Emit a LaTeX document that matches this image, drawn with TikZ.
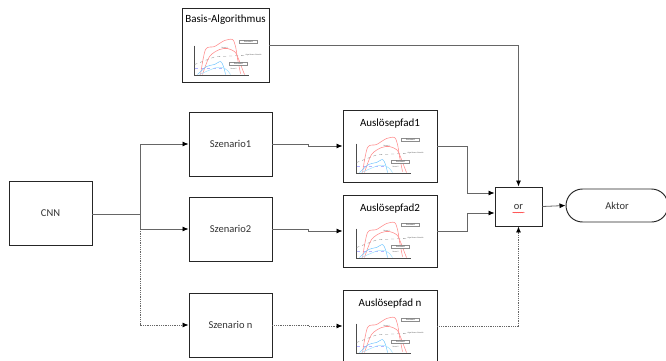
\documentclass[tikz,border=0pt]{standalone}
\usepackage{fontspec}
\setmainfont{Carlito}
\usetikzlibrary{arrows.meta,calc,decorations.pathmorphing}
\begin{document}
\begin{tikzpicture}[x=1pt,y=-1pt,
  box/.style={draw=black!85,line width=0.95pt,fill=white,inner sep=0pt},
  con/.style={draw=black!60,line width=0.8pt},
  arr/.style={con,-{Latex[length=6pt,width=5pt,color=black]}},
  dots/.style={dash pattern=on 1pt off 0.8pt},
  lbl/.style={font=\fontsize{10.5}{12}\selectfont,text=black!80},
  ttl/.style={font=\fontsize{11}{13}\selectfont,inner sep=0pt},
  tb/.style={draw=black!45,line width=0.2pt,fill=white,inner sep=0.4pt,font=\fontsize{1.8}{2}\selectfont,minimum width=18pt,minimum height=3.5pt},
  tt/.style={inner sep=0pt,font=\fontsize{1.8}{2}\selectfont,text=black!70},
  chart/.pic={
    \draw[black!70,line width=0.4pt] (14,34) -- (14,64) -- (68,64);
    \draw[black!50,dashed,line width=0.3pt] (14,53) -- (35,45) -- (64,44);
    \draw[blue!30,dashed,line width=0.3pt] (14,57) -- (44,57);
    \draw[red!45,line width=0.55pt] plot[smooth,tension=0.5] coordinates {(20,63) (25,38) (34,35) (44,29) (52,28) (55,35) (57,47) (60,62)};
    \draw[red!45,line width=0.55pt] plot[smooth,tension=0.5] coordinates {(22,63) (29,45) (39,38) (47,37) (54,40) (57,45) (62,58) (64,63)};
    \draw[blue!40!cyan!60,line width=0.45pt] plot[smooth,tension=0.5] coordinates {(17,63) (26,55) (34,53) (40,50) (43,55) (45,63)};
    \draw[blue!30!cyan!40,line width=0.45pt] plot[smooth,tension=0.5] coordinates {(19,63) (28,59) (36,56) (42,56) (47,59) (50,63)};
    \node[tb] at (68,30) {Grenzwert1};
    \node[tt] at (44,36) {Sensor1};
    \node[tt,anchor=west] at (65,44) {Algorithmus-Schwelle};
    \node[tb] at (58,52) {Grenzwert2};
    \node[tt] at (53,57) {Sensor2};
  }]
\useasboundingbox (0,0) rectangle (666,361);

% nodes
\node[box,lbl,minimum width=83pt,minimum height=64pt] (cnn) at (50.5,213) {CNN};
\node[box,lbl,minimum width=83pt,minimum height=64pt] (s1) at (230.5,144) {Szenario1};
\node[box,lbl,minimum width=83pt,minimum height=64pt] (s2) at (230.5,229) {Szenario2};
\node[box,lbl,minimum width=83pt,minimum height=64pt] (s3) at (230.5,325) {Szenario n};

\node[box,minimum width=87pt,minimum height=74pt] (basis) at (225.5,45) {};
\node[box,minimum width=94pt,minimum height=72pt] (a1) at (390,146) {};
\node[box,minimum width=94pt,minimum height=72pt] (a2) at (390,231) {};
\node[box,minimum width=94pt,minimum height=72pt] (a3) at (390,326) {};

\node[ttl] (tb0) at ($(basis.north)+(0,12)$) {Basis-Algorithmus};
\node[ttl] (t1) at ($(a1.north)+(0,14)$) {Auslösepfad1};
\node[ttl] (t2) at ($(a2.north)+(0,14)$) {Auslösepfad2};
\node[ttl] (t3) at ($(a3.north)+(0,14)$) {Auslösepfad n};

\pic at ($(basis.north west)+(-1,4)$) {chart};
\pic at (a1.north west) {chart};
\pic at (a2.north west) {chart};
\pic at (a3.north west) {chart};

\node[box,lbl,minimum width=47pt,minimum height=39pt] (or) at (518.5,206.5) {or};
\draw[red,line width=0.3pt,decorate,decoration={snake,amplitude=0.4pt,segment length=2pt}] ($(or.center)+(-6,6)$) -- ($(or.center)+(6,6)$);
\node[box,lbl,minimum width=102pt,minimum height=33pt,rounded corners=16.5pt] (akt) at (617,205.5) {Aktor};

% connectors
\coordinate (j) at (140,214);
\draw[con] (cnn.east |- j) -- (j);
\draw[arr] (j) |- (s1.west);
\draw[arr] (j) |- (s2.west);
\draw[arr,dots] (s2.west -| j) |- (s3.west);

\draw[arr] (s1.east) -- ++(36,0) |- (a1.west);
\draw[arr] (s2.east) -- ++(36,0) |- (a2.west);
\draw[arr,dots] (s3.east) -- ++(36,0) |- (a3.west);

\coordinate (k) at (467,0);
\draw[arr] (a1.east) -| (k |- a1.east) |- ($(or.west)+(0,-13.5)$);
\draw[arr] (a2.east) -| (k |- a2.east) |- ($(or.west)+(0,6.5)$);
\draw[arr,dots] (a3.east) -| (or.south);
\draw[arr] (basis.east) -| (or.north);
\draw[arr] (or.east) -- (akt.west);
\end{tikzpicture}
\end{document}
